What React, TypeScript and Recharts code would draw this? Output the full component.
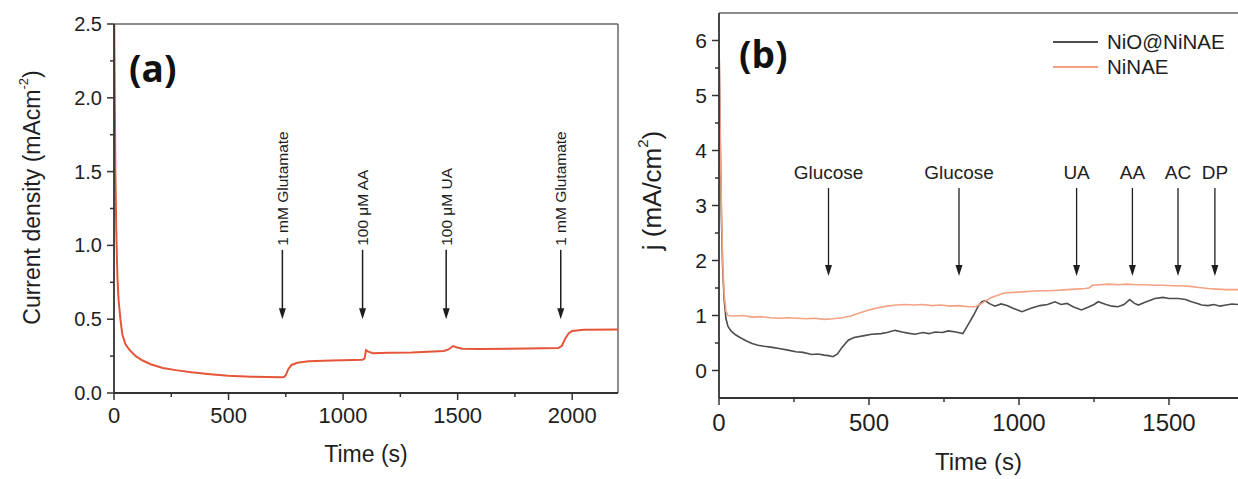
import {
    Legend,
    Line,
    LineChart,
    ReferenceLine,
    XAxis,
    YAxis
} from 'recharts';

const FONT = '"Liberation Sans", Arial, sans-serif';
const AXIS = '#333';
const BORDER = '#666';
const INK = '#1e1e1e';

// panel (a): glutamate sensing
const timeA = [0, 3, 6, 10, 15, 20, 28, 36, 50, 71, 95, 125, 160, 213, 270, 338, 420, 498, 600, 730, 742, 750, 760, 775, 800, 850, 950, 1085, 1094, 1100, 1110, 1130, 1200, 1300, 1440, 1460, 1480, 1495, 1520, 1600, 1800, 1940, 1955, 1970, 1985, 2000, 2050, 2200];
const currentA = [2.7, 2.1, 1.5, 1.1, 0.78, 0.63, 0.5, 0.4, 0.33, 0.286, 0.25, 0.22, 0.195, 0.17, 0.155, 0.14, 0.127, 0.117, 0.11, 0.106, 0.108, 0.12, 0.16, 0.19, 0.205, 0.215, 0.22, 0.225, 0.235, 0.29, 0.28, 0.27, 0.272, 0.275, 0.285, 0.295, 0.318, 0.31, 0.3, 0.298, 0.302, 0.305, 0.32, 0.37, 0.405, 0.42, 0.428, 0.43];
const arrowsA = [
    { t: 735, label: '1 mM Glutamate' },
    { t: 1085, label: '100 μM AA' },
    { t: 1450, label: '100 μM UA' },
    { t: 1950, label: '1 mM Glutamate' }
];
const xTicksA = [0, 250, 500, 750, 1000, 1250, 1500, 1750, 2000];
const xMajorA = [0, 500, 1000, 1500, 2000];
const yTicksA = [0, 0.25, 0.5, 0.75, 1, 1.25, 1.5, 1.75, 2, 2.25, 2.5];
const yMajorA = [0, 0.5, 1, 1.5, 2, 2.5];

// panel (b): glucose sensing, two electrodes
const seriesNames = ['NiO@NiNAE', 'NiNAE'];
const timeGray = [0, 4, 8, 12, 17, 23, 30, 40, 55, 70, 90, 110, 130, 150, 178, 200, 230, 256, 280, 309, 330, 350, 365, 380, 395, 410, 431, 450, 480, 509, 540, 560, 587, 610, 630, 653, 680, 700, 720, 745, 764, 790, 813, 830, 848, 864, 876, 887, 900, 920, 940, 960, 980, 1010, 1040, 1070, 1095, 1120, 1140, 1160, 1180, 1208, 1230, 1250, 1264, 1290, 1310, 1330, 1350, 1369, 1385, 1398, 1420, 1453, 1480, 1500, 1531, 1555, 1575, 1595, 1609, 1630, 1650, 1670, 1690, 1710, 1730];
const jGray = [6.0, 4.2, 2.8, 1.9, 1.3, 0.95, 0.8, 0.72, 0.65, 0.6, 0.54, 0.49, 0.46, 0.44, 0.42, 0.4, 0.37, 0.34, 0.33, 0.29, 0.3, 0.28, 0.27, 0.25, 0.3, 0.42, 0.55, 0.6, 0.63, 0.66, 0.67, 0.69, 0.73, 0.7, 0.68, 0.66, 0.69, 0.67, 0.7, 0.69, 0.72, 0.7, 0.67, 0.83, 1.0, 1.17, 1.25, 1.27, 1.22, 1.17, 1.21, 1.18, 1.13, 1.07, 1.13, 1.18, 1.2, 1.25, 1.2, 1.22, 1.16, 1.1, 1.15, 1.2, 1.25, 1.2, 1.17, 1.16, 1.2, 1.29, 1.22, 1.19, 1.24, 1.31, 1.33, 1.31, 1.31, 1.29, 1.25, 1.22, 1.19, 1.18, 1.2, 1.17, 1.19, 1.21, 1.2];
const timeOrange = [0, 4, 8, 12, 17, 23, 30, 50, 80, 110, 140, 170, 200, 230, 260, 290, 320, 350, 380, 410, 440, 470, 500, 530, 560, 590, 620, 650, 680, 710, 740, 770, 800, 830, 853, 870, 890, 910, 930, 950, 980, 1010, 1040, 1070, 1100, 1130, 1160, 1190, 1220, 1233, 1245, 1270, 1300, 1330, 1360, 1390, 1420, 1450, 1480, 1510, 1540, 1570, 1600, 1630, 1660, 1690, 1730];
const jOrange = [6.0, 4.4, 3.0, 2.0, 1.4, 1.08, 1.0, 0.99, 1.0, 0.97, 0.98, 0.96, 0.95, 0.96, 0.95, 0.94, 0.95, 0.93, 0.94, 0.96, 0.99, 1.05, 1.1, 1.14, 1.17, 1.19, 1.2, 1.19, 1.2, 1.18, 1.19, 1.17, 1.18, 1.16, 1.16, 1.2, 1.27, 1.33, 1.37, 1.41, 1.42, 1.43, 1.44, 1.45, 1.45, 1.46, 1.47, 1.48, 1.49, 1.5, 1.55, 1.56, 1.57, 1.56, 1.57, 1.56, 1.56, 1.55, 1.55, 1.54, 1.54, 1.53, 1.51, 1.49, 1.48, 1.47, 1.47];
const arrowsB = [
    { t: 365, label: 'Glucose' },
    { t: 800, label: 'Glucose' },
    { t: 1192, label: 'UA' },
    { t: 1378, label: 'AA' },
    { t: 1530, label: 'AC' },
    { t: 1653, label: 'DP' }
];
const xTicksB = [0, 250, 500, 750, 1000, 1250, 1500];
const xMajorB = [0, 500, 1000, 1500];
const yTicksB = [0, 0.5, 1, 1.5, 2, 2.5, 3, 3.5, 4, 4.5, 5, 5.5, 6];
const yMajorB = [0, 1, 2, 3, 4, 5, 6];

const zip = (ts: number[], vs: number[]) => ts.map((t, i) => ({ t, j: vs[i] }));

const makeXTick = (majors: number[], fontSize: number, gap: number) => (props: any) => {
    const { x, y, payload } = props;
    const major = majors.includes(payload.value);
    return (
        <g>
            <line x1={x} x2={x} y1={y} y2={y + (major ? 7 : 4)} stroke={AXIS} strokeWidth={1.5} />
            {major && (
                <text x={x} y={y + gap} textAnchor="middle" fontSize={fontSize} fill={INK}>
                    {payload.value}
                </text>
            )}
        </g>
    );
};

const makeYTick = (majors: number[], fontSize: number, digits: number) => (props: any) => {
    const { x, y, payload } = props;
    const major = majors.includes(payload.value);
    const len = major ? 7 : 4;
    return (
        <g>
            <line x1={x - len} x2={x} y1={y} y2={y} stroke={AXIS} strokeWidth={1.5} />
            {major && (
                <text x={x - len - 5} y={y} textAnchor="end" dominantBaseline="central" fontSize={fontSize} fill={INK}>
                    {Number(payload.value).toFixed(digits)}
                </text>
            )}
        </g>
    );
};

const arrowHead = (x: number, yEnd: number) => (
    <polygon points={`${x - 3.5},${yEnd - 11} ${x + 3.5},${yEnd - 11} ${x},${yEnd}`} fill={INK} />
);

// vertical label reading upwards, sitting on top of the arrow
const arrowA = (label: string) => (p: any) => {
    const top = Math.min(p.y1, p.y2);
    const bottom = Math.max(p.y1, p.y2);
    const x = p.x1;
    const ty = top - 4;
    return (
        <g>
            <line x1={x} x2={x} y1={top} y2={bottom - 9} stroke={INK} strokeWidth={1.5} />
            {arrowHead(x, bottom)}
            <text x={x} y={ty} transform={`rotate(-90 ${x} ${ty})`} textAnchor="start"
                dominantBaseline="central" fontSize={15.5} fill={INK}>
                {label}
            </text>
        </g>
    );
};

// horizontal label above the arrow
const arrowB = (label: string) => (p: any) => {
    const top = Math.min(p.y1, p.y2);
    const bottom = Math.max(p.y1, p.y2);
    const x = p.x1;
    return (
        <g>
            <line x1={x} x2={x} y1={top} y2={bottom - 9} stroke={INK} strokeWidth={1.3} />
            {arrowHead(x, bottom)}
            <text x={x} y={top - 9} textAnchor="middle" fontSize={19} fill={INK}>
                {label}
            </text>
        </g>
    );
};

const TitleA = (props: any) => {
    const vb = props.viewBox || { x: 0, y: 24, width: 114, height: 369 };
    const cx = 32;
    const cy = vb.y + vb.height / 2 - 11;
    return (
        <text x={cx} y={cy} transform={`rotate(-90 ${cx} ${cy})`} textAnchor="middle"
            dominantBaseline="central" fontSize={23} fill={INK}>
            Current density (mAcm<tspan dy={-9} fontSize={13}>-2</tspan><tspan dy={9}>)</tspan>
        </text>
    );
};

const TitleB = (props: any) => {
    const vb = props.viewBox || { x: 0, y: 13, width: 99, height: 385 };
    const cx = 32;
    const cy = vb.y + vb.height / 2 - 15;
    return (
        <text x={cx} y={cy} transform={`rotate(-90 ${cx} ${cy})`} textAnchor="middle"
            dominantBaseline="central" fontSize={26} fill={INK}>
            j (mA/cm<tspan dy={-10} fontSize={15}>2</tspan><tspan dy={10}>)</tspan>
        </text>
    );
};

const renderLegend = (props: any) => {
    const items = [...(props.payload || [])].sort(
        (a: any, b: any) => seriesNames.indexOf(a.value) - seriesNames.indexOf(b.value)
    );
    return (
        <div style={{ fontFamily: FONT, fontSize: 20.5, color: INK }}>
            {items.map((entry: any) => (
                <div key={entry.value} style={{ display: 'flex', alignItems: 'center', height: 25 }}>
                    <svg width={45} height={4}>
                        <line x1={0} x2={45} y1={2} y2={2} stroke={entry.color} strokeWidth={2} />
                    </svg>
                    <span style={{ marginLeft: 9 }}>{entry.value}</span>
                </div>
            ))}
        </div>
    );
};

export default function App() {
    const dataA = zip(timeA, currentA);
    const dataGray = zip(timeGray, jGray);
    const dataOrange = zip(timeOrange, jOrange);

    return (
        <div style={{ position: 'fixed', left: 0, top: 0, width: 1238, height: 479, overflow: 'hidden', background: '#fff', fontFamily: FONT }}>
            <div style={{ position: 'absolute', left: 0, top: 0 }}>
                <LineChart width={620} height={479} data={dataA} margin={{ top: 24, right: 2, bottom: 0, left: 0 }}>
                    <XAxis dataKey="t" type="number" domain={[0, 2200]} allowDataOverflow ticks={xTicksA} interval={0}
                        tickSize={0} tickMargin={0} tickLine={false} axisLine={{ stroke: AXIS, strokeWidth: 1.8 }}
                        tick={makeXTick(xMajorA, 22, 30)} height={86}
                        label={{ value: 'Time (s)', position: 'insideBottom', offset: 17, fontSize: 23, fill: INK }} />
                    <YAxis type="number" domain={[0, 2.5]} allowDataOverflow ticks={yTicksA} interval={0}
                        tickSize={0} tickMargin={0} tickLine={false} axisLine={{ stroke: AXIS, strokeWidth: 1.8 }}
                        tick={makeYTick(yMajorA, 20, 1)} width={114} label={(p: any) => <TitleA {...p} />} />
                    <ReferenceLine y={2.5} stroke={BORDER} strokeWidth={1.5} />
                    <ReferenceLine x={2200} stroke={BORDER} strokeWidth={1.5} />
                    {arrowsA.map((a, i) => (
                        <ReferenceLine key={i} segment={[{ x: a.t, y: 0.97 }, { x: a.t, y: 0.5 }]}
                            ifOverflow="visible" shape={arrowA(a.label)} />
                    ))}
                    <Line type="linear" dataKey="j" stroke="#e4553a" strokeWidth={2} dot={false} isAnimationActive={false} />
                </LineChart>
            </div>
            <div style={{ position: 'absolute', left: 620, top: 0 }}>
                <LineChart width={618} height={479} margin={{ top: 13, right: 0, bottom: 0, left: 0 }}>
                    <XAxis dataKey="t" type="number" domain={[0, 1730]} allowDataOverflow ticks={xTicksB} interval={0}
                        tickSize={0} tickMargin={0} tickLine={false} axisLine={{ stroke: AXIS, strokeWidth: 1.8 }}
                        tick={makeXTick(xMajorB, 24, 33)} height={81}
                        label={{ value: 'Time (s)', position: 'insideBottom', offset: 9, fontSize: 24, fill: INK }} />
                    <YAxis type="number" domain={[-0.5, 6.5]} allowDataOverflow ticks={yTicksB} interval={0}
                        tickSize={0} tickMargin={0} tickLine={false} axisLine={{ stroke: AXIS, strokeWidth: 1.8 }}
                        tick={makeYTick(yMajorB, 21, 0)} width={99} label={(p: any) => <TitleB {...p} />} />
                    <ReferenceLine y={6.5} stroke={BORDER} strokeWidth={1.5} />
                    {arrowsB.map((a, i) => (
                        <ReferenceLine key={i} segment={[{ x: a.t, y: 3.32 }, { x: a.t, y: 1.72 }]}
                            ifOverflow="visible" shape={arrowB(a.label)} />
                    ))}
                    <Line data={dataGray} type="linear" dataKey="j" name={seriesNames[0]} stroke="#4d4d4d" strokeWidth={1.6} dot={false} isAnimationActive={false} />
                    <Line data={dataOrange} type="linear" dataKey="j" name={seriesNames[1]} stroke="#f3a283" strokeWidth={1.6} dot={false} isAnimationActive={false} />
                    <Legend layout="vertical" align="center" verticalAlign="middle" content={renderLegend}
                        wrapperStyle={{ left: 433, top: 29, width: 'auto', height: 'auto' }} />
                </LineChart>
            </div>
            <svg style={{ position: 'absolute', left: 0, top: 0 }} width={1238} height={479} pointerEvents="none">
                <text x={129} y={82} fontFamily='"Open Sans", sans-serif' fontWeight={700} fontSize={37} fill="#111">(a)</text>
                <text x={739} y={68} fontFamily='"Open Sans", sans-serif' fontWeight={700} fontSize={37} fill="#111">(b)</text>
            </svg>
        </div>
    );
}
